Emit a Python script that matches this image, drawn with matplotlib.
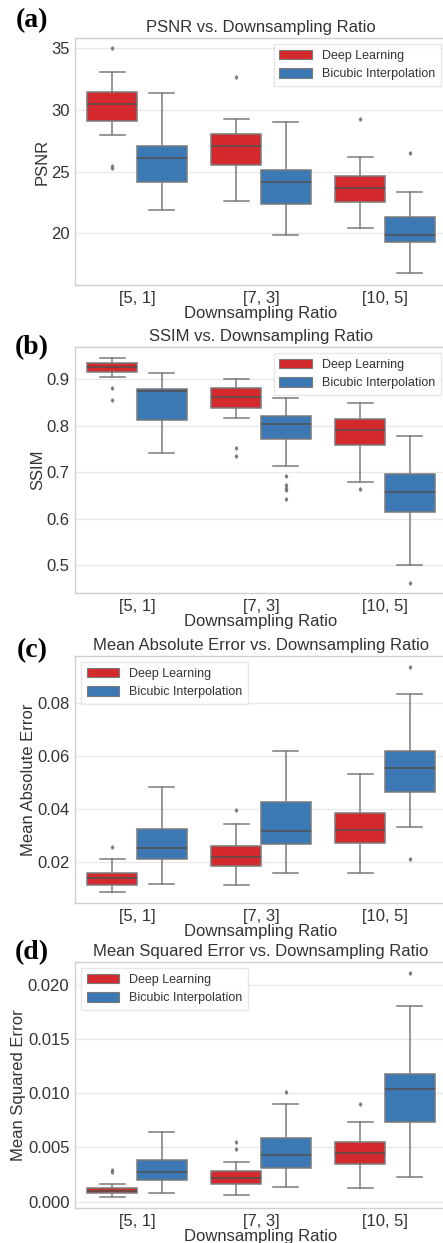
import matplotlib
matplotlib.use("Agg")
import matplotlib.pyplot as plt
from matplotlib.patches import Patch

# ---------------- data ----------------
categories = ["[5, 1]", "[7, 3]", "[10, 5]"]
series = ["Deep Learning", "Bicubic Interpolation"]

# each entry: (whisker low, q1, median, q3, whisker high)
psnr_dl = [(27.97, 29.14, 30.46, 31.43, 33.05),
           (22.62, 25.57, 27.11, 28.05, 29.30),
           (20.43, 22.57, 23.70, 24.62, 26.19)]
psnr_bi = [(21.92, 24.19, 26.08, 27.08, 31.38),
           (19.89, 22.41, 24.19, 25.16, 29.00),
           (16.76, 19.27, 19.89, 21.35, 23.32)]
psnr_dl_fliers = [[35.0, 25.49, 25.27], [32.70], [29.27]]
psnr_bi_fliers = [[], [], [26.51]]

ssim_dl = [(0.905, 0.9165, 0.926, 0.935, 0.9466),
           (0.8176, 0.8376, 0.862, 0.882, 0.9007),
           (0.679, 0.758, 0.790, 0.8154, 0.849)]
ssim_bi = [(0.741, 0.8133, 0.874, 0.8785, 0.914),
           (0.7136, 0.7724, 0.8047, 0.8204, 0.859),
           (0.500, 0.6133, 0.6577, 0.6957, 0.778)]
ssim_dl_fliers = [[0.882, 0.855], [0.753, 0.735], [0.664]]
ssim_bi_fliers = [[], [0.692, 0.672, 0.666, 0.661, 0.643], [0.462]]

mae_dl = [(0.0086, 0.0114, 0.0139, 0.0158, 0.0213),
          (0.0114, 0.0185, 0.0219, 0.0259, 0.0344),
          (0.0158, 0.0273, 0.0320, 0.0387, 0.0532)]
mae_bi = [(0.0118, 0.0210, 0.0254, 0.0324, 0.0483),
          (0.0160, 0.0268, 0.0317, 0.0426, 0.0621),
          (0.0334, 0.0463, 0.0554, 0.0621, 0.0834)]
mae_dl_fliers = [[0.0257], [0.0395], []]
mae_bi_fliers = [[], [], [0.0939, 0.0213]]

mse_dl = [(0.00040, 0.00080, 0.00101, 0.00129, 0.00163),
          (0.00061, 0.00163, 0.00221, 0.00282, 0.00368),
          (0.00123, 0.00347, 0.00445, 0.00555, 0.00736)]
mse_bi = [(0.00080, 0.00199, 0.00276, 0.00383, 0.00641),
          (0.00132, 0.00307, 0.00429, 0.00583, 0.00905),
          (0.00230, 0.00733, 0.01043, 0.01175, 0.01800)]
mse_dl_fliers = [[0.00291, 0.00276], [0.00552, 0.00482], [0.00905]]
mse_bi_fliers = [[], [0.01012], [0.02107]]

psnr_ticks = [20, 25, 30, 35]
ssim_ticks = [0.5, 0.6, 0.7, 0.8, 0.9]
mae_ticks = [0.02, 0.04, 0.06, 0.08]
mse_ticks = [0.000, 0.005, 0.010, 0.015, 0.020]

# ---------------- style ----------------
W, H = 443, 1243
DPI = 100
RED = "#d42a2d"
BLUE = "#3c78b3"
LINE = "#7a7a7a"
FONT = ["Liberation Sans", "DejaVu Sans"]
plt.rcParams["font.family"] = FONT

fig = plt.figure(figsize=(W / DPI, H / DPI), dpi=DPI)


def px_axes(left, top, right, bottom):
    return fig.add_axes([left / W, 1 - bottom / H, (right - left) / W, (bottom - top) / H])


def make_stats(vals, fliers):
    out = []
    for (lo, q1, med, q3, hi), fl in zip(vals, fliers):
        out.append(dict(whislo=lo, q1=q1, med=med, q3=q3, whishi=hi, fliers=fl))
    return out


panels = [
    dict(letter="(a)", top=38, bottom=285, title="PSNR vs. Downsampling Ratio", ylabel="PSNR",
         dl=psnr_dl, bi=psnr_bi, dlf=psnr_dl_fliers, bif=psnr_bi_fliers,
         ylim=(15.8, 35.85), ticks=psnr_ticks, fmt="{:g}", loc="upper right", letter_y=21),
    dict(letter="(b)", top=347, bottom=593, title="SSIM vs. Downsampling Ratio", ylabel="SSIM",
         dl=ssim_dl, bi=ssim_bi, dlf=ssim_dl_fliers, bif=ssim_bi_fliers,
         ylim=(0.44, 0.9695), ticks=ssim_ticks, fmt="{:.1f}", loc="upper right", letter_y=348),
    dict(letter="(c)", top=656, bottom=903, title="Mean Absolute Error vs. Downsampling Ratio",
         ylabel="Mean Absolute Error",
         dl=mae_dl, bi=mae_bi, dlf=mae_dl_fliers, bif=mae_bi_fliers,
         ylim=(0.0045, 0.0979), ticks=mae_ticks, fmt="{:.2f}", loc="upper left", letter_y=651),
    dict(letter="(d)", top=962, bottom=1208, title="Mean Squared Error vs. Downsampling Ratio",
         ylabel="Mean Squared Error",
         dl=mse_dl, bi=mse_bi, dlf=mse_dl_fliers, bif=mse_bi_fliers,
         ylim=(-0.00058, 0.0221), ticks=mse_ticks, fmt="{:.3f}", loc="upper left", letter_y=953),
]

FS = 12
for p in panels:
    ax = px_axes(75, p["top"], 447, p["bottom"])
    ax.set_facecolor("white")
    x = list(range(len(categories)))
    for vals, fl, col, off in [(p["dl"], p["dlf"], RED, -0.2), (p["bi"], p["bif"], BLUE, 0.2)]:
        st = make_stats(vals, fl)
        ax.bxp(st, positions=[i + off for i in x], widths=0.4, patch_artist=True,
               showfliers=True, capwidths=0.2,
               boxprops=dict(facecolor=col, edgecolor=LINE, linewidth=1.1),
               whiskerprops=dict(color=LINE, linewidth=1.1),
               capprops=dict(color=LINE, linewidth=1.1),
               medianprops=dict(color="#505050", linewidth=1.1),
               flierprops=dict(marker="d", markersize=1.8, markerfacecolor=LINE,
                               markeredgecolor=LINE, linestyle="none"),
               zorder=3)
    ax.set_xlim(-0.5, 2.5)
    ax.set_ylim(*p["ylim"])
    ax.set_xticks(x)
    ax.set_xticklabels(categories, fontsize=FS, color="#333333")
    ax.set_yticks(p["ticks"])
    ax.set_yticklabels([p["fmt"].format(t) for t in p["ticks"]], fontsize=FS, color="#333333")
    ax.tick_params(length=0, pad=4)
    ax.grid(axis="y", color="#e9e9e9", linewidth=1, zorder=0)
    ax.grid(axis="x", visible=False)
    ax.set_axisbelow(True)
    for s in ax.spines.values():
        s.set_color("#cfcfcf")
        s.set_linewidth(1.0)
    ax.set_title(p["title"], fontsize=FS, color="#333333", pad=4)
    ax.set_xlabel("Downsampling Ratio", fontsize=FS, color="#333333", labelpad=0)
    ax.set_ylabel(p["ylabel"], fontsize=FS, color="#333333", labelpad=1)
    handles = [Patch(facecolor=RED, edgecolor=LINE, linewidth=0.8, label=series[0]),
               Patch(facecolor=BLUE, edgecolor=LINE, linewidth=0.8, label=series[1])]
    leg = ax.legend(handles=handles, loc=p["loc"], fontsize=9, frameon=True,
                    fancybox=False, edgecolor="#e3e3e3", framealpha=0.85,
                    handlelength=2.6, handleheight=0.8, borderpad=0.45, labelspacing=0.5)
    for t in leg.get_texts():
        t.set_color("#333333")
    fig.text(32 / W, 1 - p["letter_y"] / H, p["letter"], fontsize=20, fontweight="bold",
             family=["Liberation Serif", "DejaVu Serif"], ha="center", va="center", color="black")

fig.savefig("out.png", dpi=DPI)
